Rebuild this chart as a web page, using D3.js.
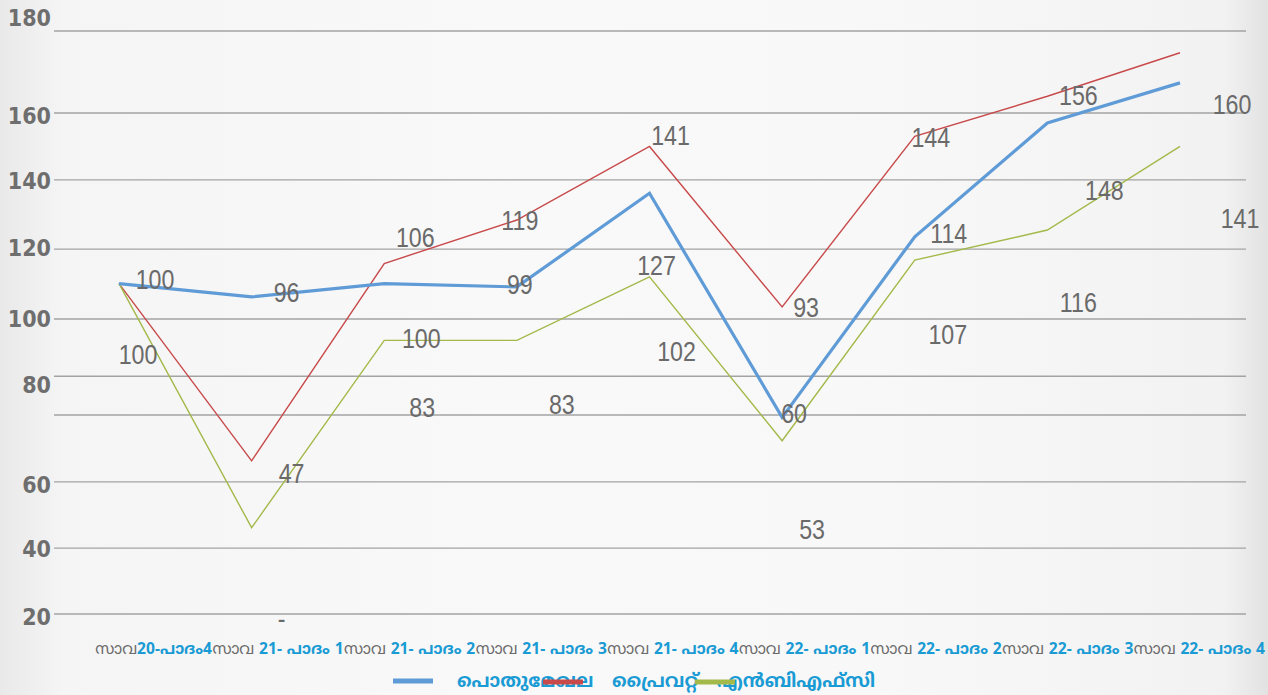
<!DOCTYPE html>
<html>
<head>
<meta charset="utf-8">
<script src="https://cdn.jsdelivr.net/npm/d3@7"></script>
<style>
  html, body { margin: 0; padding: 0; }
  body { width: 1268px; height: 695px; overflow: hidden; }
  svg { display: block; }
</style>
</head>
<body>
<svg id="chart" width="1268" height="695"></svg>
<script>
// Quarterly categories (x axis)
const categories = [
  'സാവ20-പാദം4', 'സാവ 21- പാദം 1', 'സാവ 21- പാദം 2', 'സാവ 21- പാദം 3',
  'സാവ 21- പാദം 4', 'സാവ 22- പാദം 1', 'സാവ 22- പാദം 2', 'സാവ 22- പാദം 3',
  'സാവ 22- പാദം 4'
];

// Series names
const seriesNames = ['പൊതുമേഖല', 'പ്രൈവറ്റ്', 'എൻബിഎഫ്സി'];

// Series values (index, base quarter = 100)
const publicSector = [100, 96, 100, 99, 127, 60, 114, 148, 160];
const privateSector = [100, 47, 106, 119, 141, 93, 144, 156, 169];
const nbfc = [100, 27, 83, 83, 102, 53, 107, 116, 141];

// Value labels shown beside the points (null = no label)
const publicLabels = ['100', '96', '100', '99', '127', '60', '114', '148', '160'];
const privateLabels = [null, '47', '106', '119', '141', '93', '144', '156', null];
const nbfcLabels = ['100', '-', '83', '83', '102', '53', '107', '116', '141'];

// Y axis tick labels and the axis values where they sit
const tickLabels = ['180', '160', '140', '120', '100', '80', '60', '40', '20'];
const tickValues = [179.5, 150.2, 130.6, 110.6, 89.6, 69.8, 39.9, 20.6, 0.4];

// Horizontal grid lines (axis values)
const gridValues = [175.5, 151, 131, 110.3, 89.4, 72.3, 60.7, 40.7, 20.9, 1.2];

const svg = d3.select('#chart');

// Background with soft grey edges
const defs = svg.append('defs');
const bg = defs.append('linearGradient').attr('id', 'bg').attr('x1', 0).attr('x2', 1).attr('y1', 0).attr('y2', 0);
[[0, '#e9e9e9'], [0.05, '#f5f5f5'], [0.4, '#f9f9f9'], [0.7, '#f8f8f8'], [0.965, '#f2f2f2'], [1, '#e2e2e2']]
  .forEach(([o, c]) => bg.append('stop').attr('offset', o).attr('stop-color', c));
svg.append('rect').attr('width', 1268).attr('height', 695).attr('fill', 'url(#bg)');

const x = d3.scalePoint().domain(categories).range([119, 1180]);
const y = d3.scaleLinear().domain([0, 180]).range([618, 16]);
// right edge of each category label along the bottom row
const xLabelEnd = d3.scalePoint().domain(categories).range([212, 1265]);

// Grid lines
svg.append('g').selectAll('line').data(gridValues).join('line')
  .attr('x1', 54).attr('x2', 1246)
  .attr('y1', d => y(d)).attr('y2', d => y(d))
  .attr('stroke', '#a3a3a3').attr('stroke-width', 1.4);

// Y tick labels
svg.append('g').selectAll('text').data(tickLabels).join('text')
  .attr('x', 51).attr('y', (d, i) => y(tickValues[i]))
  .attr('dy', '0.36em')
  .attr('text-anchor', 'end')
  .attr('font-family', '"DejaVu Sans Condensed", "Liberation Sans", Arial, sans-serif')
  .attr('font-weight', 'bold')
  .attr('font-size', 23)
  .attr('fill', '#6e6e6e')
  .text(d => d);

// Series lines
const series = [
  { values: publicSector, labels: publicLabels, color: '#5f9bd6', width: 3.2,
    offsets: [[36, -4], [35, -5], [37, 55], [3, -3], [7, 72], [12, -4], [34, -3], [57, 67], [52, 21]] },
  { values: privateSector, labels: privateLabels, color: '#c8494a', width: 1.4,
    offsets: [[0, 0], [40, 12], [31, -26], [3, 0], [21, -11], [24, 0], [16, 1], [31, -1], [0, 0]] },
  { values: nbfc, labels: nbfcLabels, color: '#a3b94a', width: 1.4,
    offsets: [[19, 71], [30, 91], [38, 67], [45, 64], [27, 74], [30, 89], [33, 74], [31, 72], [60, 72]] }
];

const line = d3.line()
  .x((d, i) => x(categories[i]))
  .y(d => y(d));

const plotOrder = [1, 2, 0];
plotOrder.forEach(si => {
  const s = series[si];
  svg.append('path')
    .datum(s.values)
    .attr('d', line)
    .attr('fill', 'none')
    .attr('stroke', s.color)
    .attr('stroke-width', s.width)
    .attr('stroke-linejoin', 'miter');
});

// Value labels (narrowed horizontally)
series.forEach(s => {
  svg.append('g').selectAll('text')
    .data(s.values.map((v, i) => ({ v, i, t: s.labels[i] })).filter(d => d.t !== null))
    .join('text')
    .attr('transform', d => `translate(${x(categories[d.i]) + s.offsets[d.i][0]},${y(d.v) + s.offsets[d.i][1]}) scale(0.86,1)`)
    .attr('dy', '0.36em')
    .attr('text-anchor', 'middle')
    .attr('font-family', '"Liberation Sans", Arial, sans-serif')
    .attr('font-size', 27)
    .attr('fill', '#6a6a6a')
    .text(d => d.t);
});

// Category labels: grey prefix, bold blue quarter
const catG = svg.append('g');
categories.forEach(c => {
  const prefix = 'സാവ';
  const rest = c.slice(prefix.length);
  const t = catG.append('text')
    .attr('x', xLabelEnd(c))
    .attr('y', 654)
    .attr('text-anchor', 'end')
    .attr('font-family', '"Noto Sans Malayalam", "Noto Sans", "DejaVu Sans", sans-serif')
    .attr('font-size', 15.6);
  t.append('tspan').attr('fill', '#6a6a6a').text(prefix);
  t.append('tspan').attr('fill', '#1a9bd4').attr('font-weight', 'bold').text(rest);
});

// Legend
const legend = [
  { sx: 393, tx: 457 },
  { sx: 543, tx: 612 },
  { sx: 695, tx: 717 }
];
const legendG = svg.append('g');
legend.forEach((l, i) => {
  if (i === 0) {
    legendG.append('line')
      .attr('x1', l.sx).attr('x2', l.sx + 40).attr('y1', 681).attr('y2', 681)
      .attr('stroke', series[i].color).attr('stroke-width', 5);
  }
  legendG.append('text')
    .attr('x', l.tx).attr('y', 687)
    .attr('font-family', '"Noto Sans Malayalam", "Noto Sans", "DejaVu Sans", sans-serif')
    .attr('font-weight', 'bold')
    .attr('font-size', 18.5)
    .attr('fill', '#1a9bd4')
    .text(seriesNames[i]);
});
// swatches of the later series sit on top of the names
legend.slice(1).forEach((l, j) => {
  legendG.append('line')
    .attr('x1', l.sx).attr('x2', l.sx + 40).attr('y1', 682).attr('y2', 682)
    .attr('stroke', series[j + 1].color).attr('stroke-width', 5);
});
</script>
</body>
</html>
